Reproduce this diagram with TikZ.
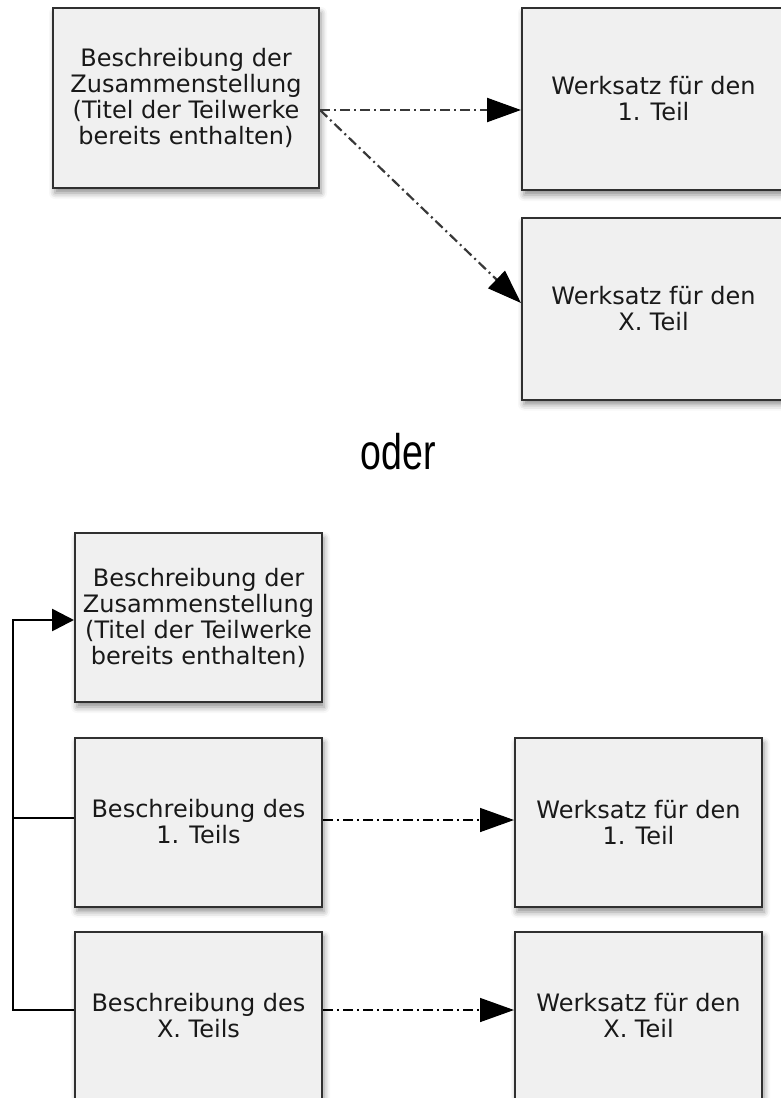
\documentclass[tikz,border=0pt]{standalone}
\usepackage{fontspec}
\setmainfont{DejaVu Sans}
\newfontfamily\oderfont[FakeStretch=0.75]{Liberation Sans}
\usetikzlibrary{arrows.meta,shadows.blur}
\definecolor{boxfill}{HTML}{F0F0F0}
\definecolor{boxline}{HTML}{303030}
\definecolor{dashgray}{HTML}{383838}
\begin{document}
\begin{tikzpicture}[x=0.5pt,y=-0.5pt,
  thick,main node/.style={rectangle,draw=boxline,line width=1pt,fill=boxfill,text=black!90,
    font=\fontsize{12}{13}\selectfont,align=center,inner sep=0pt,
    blur shadow={shadow xshift=1pt,shadow yshift=-2.5pt,shadow blur radius=3pt,shadow opacity=45}},
  wide node/.style={main node,minimum width=133pt,minimum height=90pt},
  side node/.style={main node,minimum width=131.5pt,minimum height=91pt},
  low node/.style={main node,minimum width=123.5pt,minimum height=84.5pt},
  dd arrow/.style={line width=1.1pt,dash pattern=on 5pt off 2pt on 1pt off 2pt,
    -{Triangle[length=17pt,width=12pt,black]}}]

  \clip (0,0) rectangle (781,1098);

  % first variant
  \node[wide node] (0) at (186,98) {Beschreibung der\\Zusammenstellung\\(Titel der Teilwerke\\bereits enthalten)};
  \node[side node] (1) at (653.5,99) {Werksatz für den\\1. Teil};
  \node[side node] (2) at (653.5,308.5) {Werksatz für den\\X. Teil};

  \draw[dd arrow,draw=dashgray] ([yshift=-6pt]0.east) -- ([yshift=-5.5pt]1.west);
  \draw[dd arrow,draw=dashgray] ([yshift=-6pt]0.east) -- ([yshift=2.75pt]2.west);

  \node[font=\oderfont\fontsize{25}{30}\selectfont] (or) at (398,452) {oder};

  % second variant
  \node[low node] (3) at (198.5,617.5) {Beschreibung der\\Zusammenstellung\\(Titel der Teilwerke\\bereits enthalten)};
  \node[low node] (4) at (198.5,822) {Beschreibung des\\1. Teils};
  \node[low node] (5) at (198.5,1016) {Beschreibung des\\X. Teils};
  \node[low node] (6) at (638.5,822.5) {Werksatz für den\\1. Teil};
  \node[low node] (7) at (638.5,1016) {Werksatz für den\\X. Teil};

  \coordinate (up) at (13,620);
  \coordinate (mid) at (13,818);

  \draw[line width=1.3pt,-{Triangle[length=11pt,width=11pt]}]
    ([yshift=3pt]5.west) -| (up) -- ([yshift=-1.25pt]3.west);
  \draw[line width=1.3pt] ([yshift=2pt]4.west) -- (mid);

  \draw[dd arrow,line width=0.75pt] ([yshift=1pt]4.east) -- ([yshift=1.25pt]6.west);
  \draw[dd arrow,line width=0.75pt] ([yshift=3pt]5.east) -- ([yshift=3pt]7.west);
\end{tikzpicture}
\end{document}
